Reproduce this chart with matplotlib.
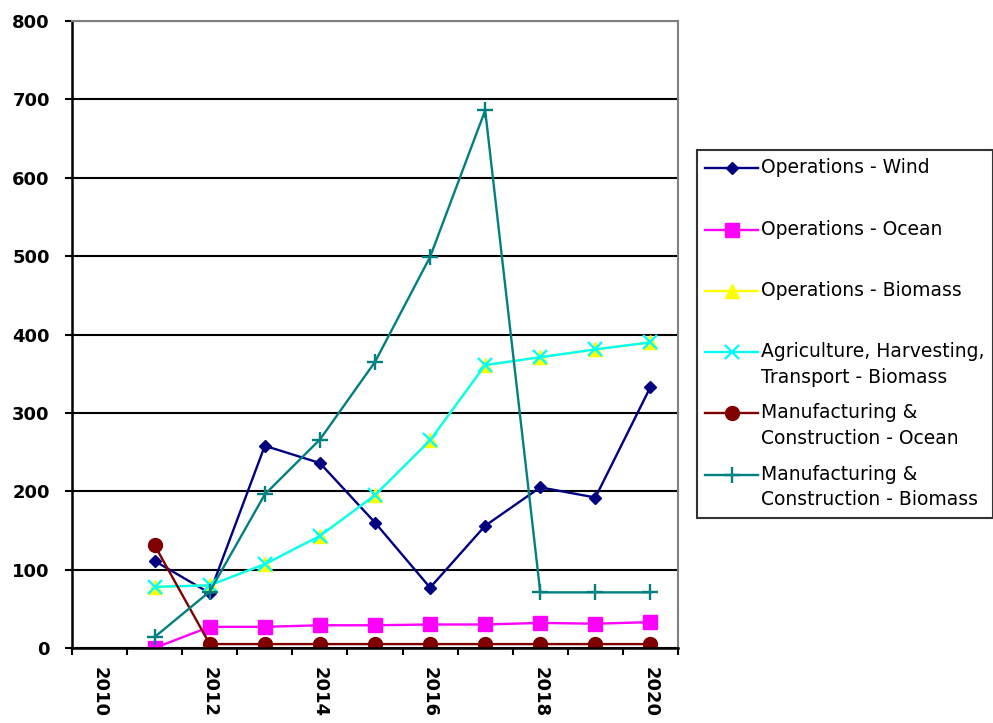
import matplotlib
matplotlib.use("Agg")
import matplotlib.pyplot as plt
import numpy as np
from matplotlib.legend_handler import HandlerLine2D

# series values, one per year (no data for 2010)
years = [2010, 2011, 2012, 2013, 2014, 2015, 2016, 2017, 2018, 2019, 2020]
nan = np.nan
ops_wind = [nan, 111, 70, 258, 236, 160, 77, 156, 205, 192, 333]
ops_ocean = [nan, 0, 27, 27, 29, 29, 30, 30, 32, 31, 33]
ops_biomass = [nan, 78, 80, 107, 143, 195, 265, 361, 371, 381, 390]
agri_biomass = [nan, 78, 80, 107, 143, 195, 265, 361, 371, 381, 390]
mfg_ocean = [nan, 131, 5, 5, 5, 5, 5, 5, 5, 5, 5]
mfg_biomass = [nan, 14, 72, 196, 266, 365, 499, 686, 71, 71, 71]

labels = ["Operations - Wind\n ",
          "Operations - Ocean\n ",
          "Operations - Biomass\n ",
          "Agriculture, Harvesting,\nTransport - Biomass",
          "Manufacturing &\nConstruction - Ocean",
          "Manufacturing &\nConstruction - Biomass"]


class TopLineHandler(HandlerLine2D):
    # put the legend sample next to the first text line instead of the middle
    def __init__(self, lift=0.0, **kw):
        super().__init__(**kw)
        self.lift = lift

    def create_artists(self, legend, orig_handle, xdescent, ydescent,
                       width, height, fontsize, trans):
        return super().create_artists(legend, orig_handle, xdescent,
                                      ydescent - 2 * self.lift * fontsize,
                                      width, height, fontsize, trans)


fig = plt.figure(figsize=(9.93, 7.23), dpi=100)
ax = fig.add_axes([72 / 993, 1 - 648 / 723, (678 - 72) / 993, (648 - 21) / 723])

x = np.arange(len(years))
lw = 1.7
l1, = ax.plot(x, ops_wind, color="#000080", lw=lw, marker="D", ms=6.5,
              mfc="#000080", mec="#000080")
l2, = ax.plot(x, ops_ocean, color="#FF00FF", lw=lw, marker="s", ms=9.5,
              mfc="#FF00FF", mec="#FF00FF")
l3, = ax.plot(x, ops_biomass, color="#FFFF00", lw=lw, marker="^", ms=9.5,
              mfc="#FFFF00", mec="#FFFF00")
l4, = ax.plot(x, agri_biomass, color="#00FFFF", lw=lw, marker="x", ms=9.5,
              mew=1.7, mec="#00FFFF")
l5, = ax.plot(x, mfg_ocean, color="#800000", lw=lw, marker="o", ms=10,
              mfc="#800000", mec="#800000")
l6, = ax.plot(x, mfg_biomass, color="#008080", lw=lw, marker="+", ms=11,
              mew=1.7, mec="#008080")

ax.set_xlim(-0.5, len(years) - 0.5)
ax.set_ylim(0, 800)
ax.set_yticks(range(0, 801, 100))
ax.set_axisbelow(True)
ax.yaxis.grid(True, color="black", lw=1.5)

ax.set_xticks(np.arange(-0.5, len(years), 1), minor=True)
ax.set_xticks(x[::2])
ax.set_xticklabels([str(y) for y in years[::2]], rotation=-90)
ax.tick_params(axis="x", which="major", length=0, pad=14)
ax.tick_params(axis="x", which="minor", length=5, width=1.5, color="black")
ax.tick_params(axis="y", length=5, width=1.5, pad=11)
for lab in ax.get_xticklabels() + ax.get_yticklabels():
    lab.set_fontsize(13)
    lab.set_fontweight("bold")

for side in ("left", "bottom"):
    ax.spines[side].set_color("black")
    ax.spines[side].set_linewidth(1.8)
for side in ("top", "right"):
    ax.spines[side].set_color("#808080")
    ax.spines[side].set_linewidth(1.5)

handles = [l1, l2, l3, l4, l5, l6]
leg = fig.legend(handles, labels, loc="upper left",
                 bbox_to_anchor=(697 / 993, 1 - 150 / 723),
                 bbox_transform=fig.transFigure, borderaxespad=0,
                 fontsize=13.5, frameon=True, fancybox=False,
                 handlelength=2.8, handletextpad=0.15, borderpad=0.45,
                 labelspacing=0.88,
                 handler_map={h: TopLineHandler(lift=0.71) for h in handles})
leg.get_frame().set_edgecolor("black")
leg.get_frame().set_linewidth(1.5)
for t in leg.get_texts():
    t.set_linespacing(1.45)

fig.savefig("out.png", dpi=100)
